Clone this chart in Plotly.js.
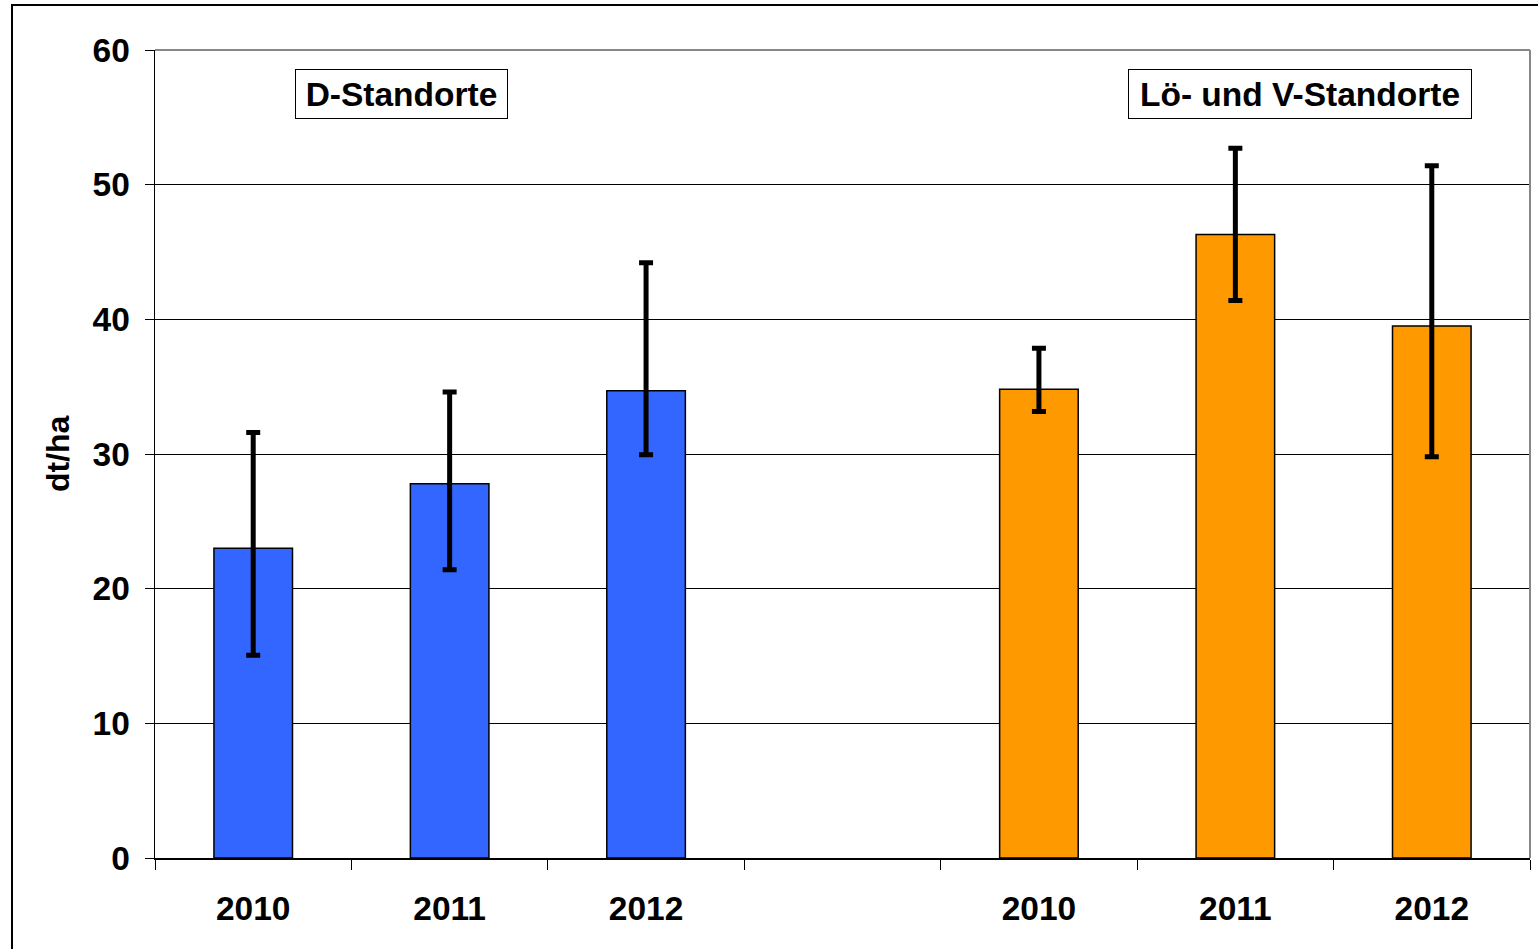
<!DOCTYPE html>
<html>
<head>
<meta charset="utf-8">
<script src="https://cdn.plot.ly/plotly-3.0.1.min.js"></script>
<style>
html,body{margin:0;padding:0;overflow:hidden;background:#fff;}
#wrap{position:relative;width:1538px;height:949px;}
#frame{position:absolute;left:11px;top:4px;width:2000px;height:2000px;border-left:2px solid #000;border-top:2px solid #000;pointer-events:none;}
#chart{position:absolute;left:0;top:0;width:1538px;height:949px;}
</style>
</head>
<body>
<div id="wrap"><div id="chart"></div><div id="frame"></div></div>
<script>
// Data
const years = ['2010', '2011', '2012'];
const groupLabels = ['D-Standorte', 'Lö- und V-Standorte'];
const dValues = [23.0, 27.8, 34.7];
const dErrPlus = [8.6, 6.8, 9.5];
const dErrMinus = [7.95, 6.4, 4.75];
const lvValues = [34.8, 46.3, 39.5];
const lvErrPlus = [3.05, 6.4, 11.9];
const lvErrMinus = [1.65, 4.9, 9.7];
const colorD = '#3366FF';
const colorLV = '#FF9900';

const FONT = '"Liberation Sans", Arial, Helvetica, sans-serif';
const FS = 33.5;

const cats = years.map(y => 'D ' + y).concat(['gap']).concat(years.map(y => 'LV ' + y));
const yVals = dValues.concat([null]).concat(lvValues);
const ePlus = dErrPlus.concat([null]).concat(lvErrPlus);
const eMinus = dErrMinus.concat([null]).concat(lvErrMinus);
const colors = years.map(() => colorD).concat([colorD]).concat(years.map(() => colorLV));

const trace = {
  type: 'bar',
  x: cats,
  y: yVals,
  width: 0.4,
  marker: {color: colors, line: {color: '#000', width: 1.5}},
  error_y: {type: 'data', symmetric: false, array: ePlus, arrayminus: eMinus,
            color: '#000', thickness: 5, width: 7},
  hoverinfo: 'none'
};

const layout = {
  width: 1538, height: 949,
  margin: {l: 155, r: 8, t: 50, b: 91, pad: 0},
  paper_bgcolor: 'rgba(0,0,0,0)', plot_bgcolor: '#fff',
  showlegend: false,
  font: {family: FONT, size: FS, color: '#000'},
  xaxis: {
    type: 'category', categoryorder: 'array', categoryarray: cats,
    range: [-0.5, 6.5], fixedrange: true,
    tickmode: 'array', tickvals: cats,
    ticktext: years.concat(['']).concat(years),
    tickson: 'boundaries', ticks: 'outside', ticklen: 10, tickwidth: 1, tickcolor: '#000',
    ticklabelstandoff: 20,
    showgrid: false, showline: true, linecolor: '#000', linewidth: 1.5,
    tickfont: {family: FONT, size: FS, color: '#000', weight: 'bold'}
  },
  yaxis: {
    range: [0, 60], dtick: 10, tick0: 0, fixedrange: true,
    ticks: 'outside', ticklen: 9, tickwidth: 1, tickcolor: '#000',
    ticklabelstandoff: 8,
    showgrid: true, gridcolor: '#000', gridwidth: 1,
    zeroline: false, showline: true, linecolor: '#000', linewidth: 1.5,
    tickfont: {family: FONT, size: FS, color: '#000', weight: 'bold'}
  },
  shapes: [
    {type: 'line', xref: 'paper', yref: 'paper', x0: 0, x1: 1, y0: 1, y1: 1,
     line: {color: '#888', width: 2}, layer: 'above'},
    {type: 'line', xref: 'paper', yref: 'paper', x0: 1, x1: 1, y0: 0, y1: 1,
     line: {color: '#888', width: 2}, layer: 'above'}
  ],
  annotations: [
    {text: '<b>' + groupLabels[0] + '</b>', xref: 'paper', yref: 'paper',
     x: 0.1796, y: 0.9455, xanchor: 'center', yanchor: 'middle', showarrow: false,
     width: 201, height: 38, align: 'center', valign: 'middle',
     bgcolor: '#fff', bordercolor: '#000', borderwidth: 1, borderpad: 5,
     font: {family: FONT, size: FS, color: '#000'}},
    {text: '<b>' + groupLabels[1] + '</b>', xref: 'paper', yref: 'paper',
     x: 0.8327, y: 0.9455, xanchor: 'center', yanchor: 'middle', showarrow: false,
     width: 332, height: 38, align: 'center', valign: 'middle',
     bgcolor: '#fff', bordercolor: '#000', borderwidth: 1, borderpad: 5,
     font: {family: FONT, size: FS, color: '#000'}},
    {text: '<b>dt/ha</b>', xref: 'paper', yref: 'paper',
     x: -0.0705, y: 0.5, xanchor: 'center', yanchor: 'middle', showarrow: false,
     textangle: -90, font: {family: FONT, size: 32, color: '#000'}}
  ]
};

Plotly.newPlot('chart', [trace], layout, {displayModeBar: false, staticPlot: true});
</script>
</body>
</html>
